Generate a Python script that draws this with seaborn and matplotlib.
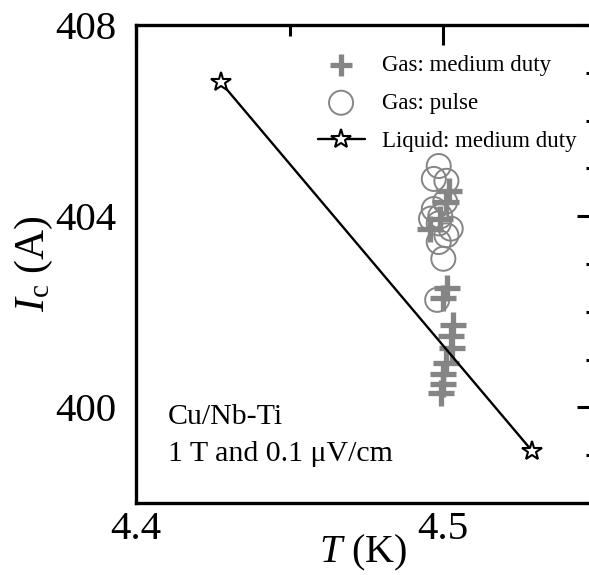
import numpy as np
import pandas as pd
import matplotlib
matplotlib.use("Agg")
import matplotlib.pyplot as plt
import seaborn as sns
from matplotlib.ticker import MultipleLocator, FormatStrFormatter

# ---- data ----
gas_medium_T = [4.5018, 4.5008, 4.4958, 4.4990, 4.5013, 4.5000, 4.5031, 4.5026, 4.5028, 4.5008, 4.4998, 4.4998, 4.4994]
gas_medium_I = [404.53, 404.29, 403.74, 403.95, 402.49, 402.28, 401.73, 401.49, 401.24, 400.93, 400.69, 400.48, 400.31]

gas_pulse_T = [4.4985, 4.4969, 4.5010, 4.5006, 4.4969, 4.4960, 4.5024, 4.4985, 4.5010, 4.4985, 4.5000, 4.4980, 4.4990]
gas_pulse_I = [405.05, 404.78, 404.74, 404.30, 404.15, 403.95, 403.74, 403.85, 403.60, 403.46, 403.11, 402.25, 404.00]

liquid_T = [4.4276, 4.5290]
liquid_I = [406.80, 399.08]

labels = ["Gas: medium duty", "Gas: pulse", "Liquid: medium duty"]
note_lines = ["Cu/Nb-Ti", "1 T and 0.1 \u03bcV/cm"]

sns.set_theme(style="white", rc={"text.color": "black", "axes.labelcolor": "black",
                                 "xtick.color": "black", "ytick.color": "black"})
plt.rcParams["font.family"] = ["Liberation Serif", "DejaVu Serif"]
plt.rcParams["mathtext.fontset"] = "custom"
plt.rcParams["mathtext.rm"] = "Liberation Serif"
plt.rcParams["mathtext.it"] = "Liberation Serif:italic"

fig = plt.figure(figsize=(5.89, 5.75), dpi=100)
ax = fig.add_axes([136 / 589, 72 / 575, (597 - 136) / 589, 478 / 575])

gray = "#858585"
df_gm = pd.DataFrame({"T": gas_medium_T, "I": gas_medium_I})
df_gp = pd.DataFrame({"T": gas_pulse_T, "I": gas_pulse_I})
df_l = pd.DataFrame({"T": liquid_T, "I": liquid_I})

sns.scatterplot(data=df_gp, x="T", y="I", ax=ax, marker="o", s=300,
                facecolor="none", edgecolor=gray, linewidth=1.4, label=labels[1], zorder=2)
sns.scatterplot(data=df_gm, x="T", y="I", ax=ax, marker="+", s=340,
                color=gray, linewidth=3.8, label=labels[0], zorder=3)
sns.lineplot(data=df_l, x="T", y="I", ax=ax, color="black", linewidth=1.7,
             marker="*", markersize=15, markerfacecolor="white",
             markeredgecolor="black", markeredgewidth=1.5, label=labels[2], zorder=4)

ax.set_xlim(4.4, 4.55)
ax.set_ylim(398, 408)
ax.xaxis.set_major_locator(MultipleLocator(0.1))
ax.xaxis.set_minor_locator(MultipleLocator(0.05))
ax.yaxis.set_major_locator(MultipleLocator(4))
ax.yaxis.set_minor_locator(MultipleLocator(1))
ax.xaxis.set_major_formatter(FormatStrFormatter("%.1f"))
ax.yaxis.set_major_formatter(FormatStrFormatter("%d"))

ax.tick_params(which="both", direction="in", top=True, right=True, width=2.2, color="black")
ax.tick_params(which="major", length=14.4, labelsize=29.5)
ax.tick_params(axis="y", which="major", pad=14)
ax.tick_params(axis="x", which="major", pad=6)
ax.tick_params(which="minor", length=8)
for s in ax.spines.values():
    s.set_linewidth(2.4)
    s.set_color("black")

ax.set_xlabel(r"$T$ (K)", fontsize=29)
ax.set_ylabel(r"$I_\mathrm{c}$ (A)", fontsize=30)
ax.xaxis.set_label_coords(0.492, -0.062)
ax.yaxis.set_label_coords(-0.175, 0.5)

ax.text(4.4104, 399.65, note_lines[0], fontsize=21.5, ha="left", va="baseline")
ax.text(4.4104, 398.88, note_lines[1], fontsize=21.5, ha="left", va="baseline")

h, l = ax.get_legend_handles_labels()
order = [l.index(x) for x in labels]
leg = ax.legend([h[i] for i in order], [l[i] for i in order], loc="upper left",
                bbox_to_anchor=(0.374, 0.9575), frameon=False, fontsize=16.5,
                handlelength=2.05, handletextpad=0.78, labelspacing=0.75, borderaxespad=0)
# smaller plus in legend as in reference
leg.legend_handles[0].set_sizes([230])

fig.savefig("out.png", dpi=100)
